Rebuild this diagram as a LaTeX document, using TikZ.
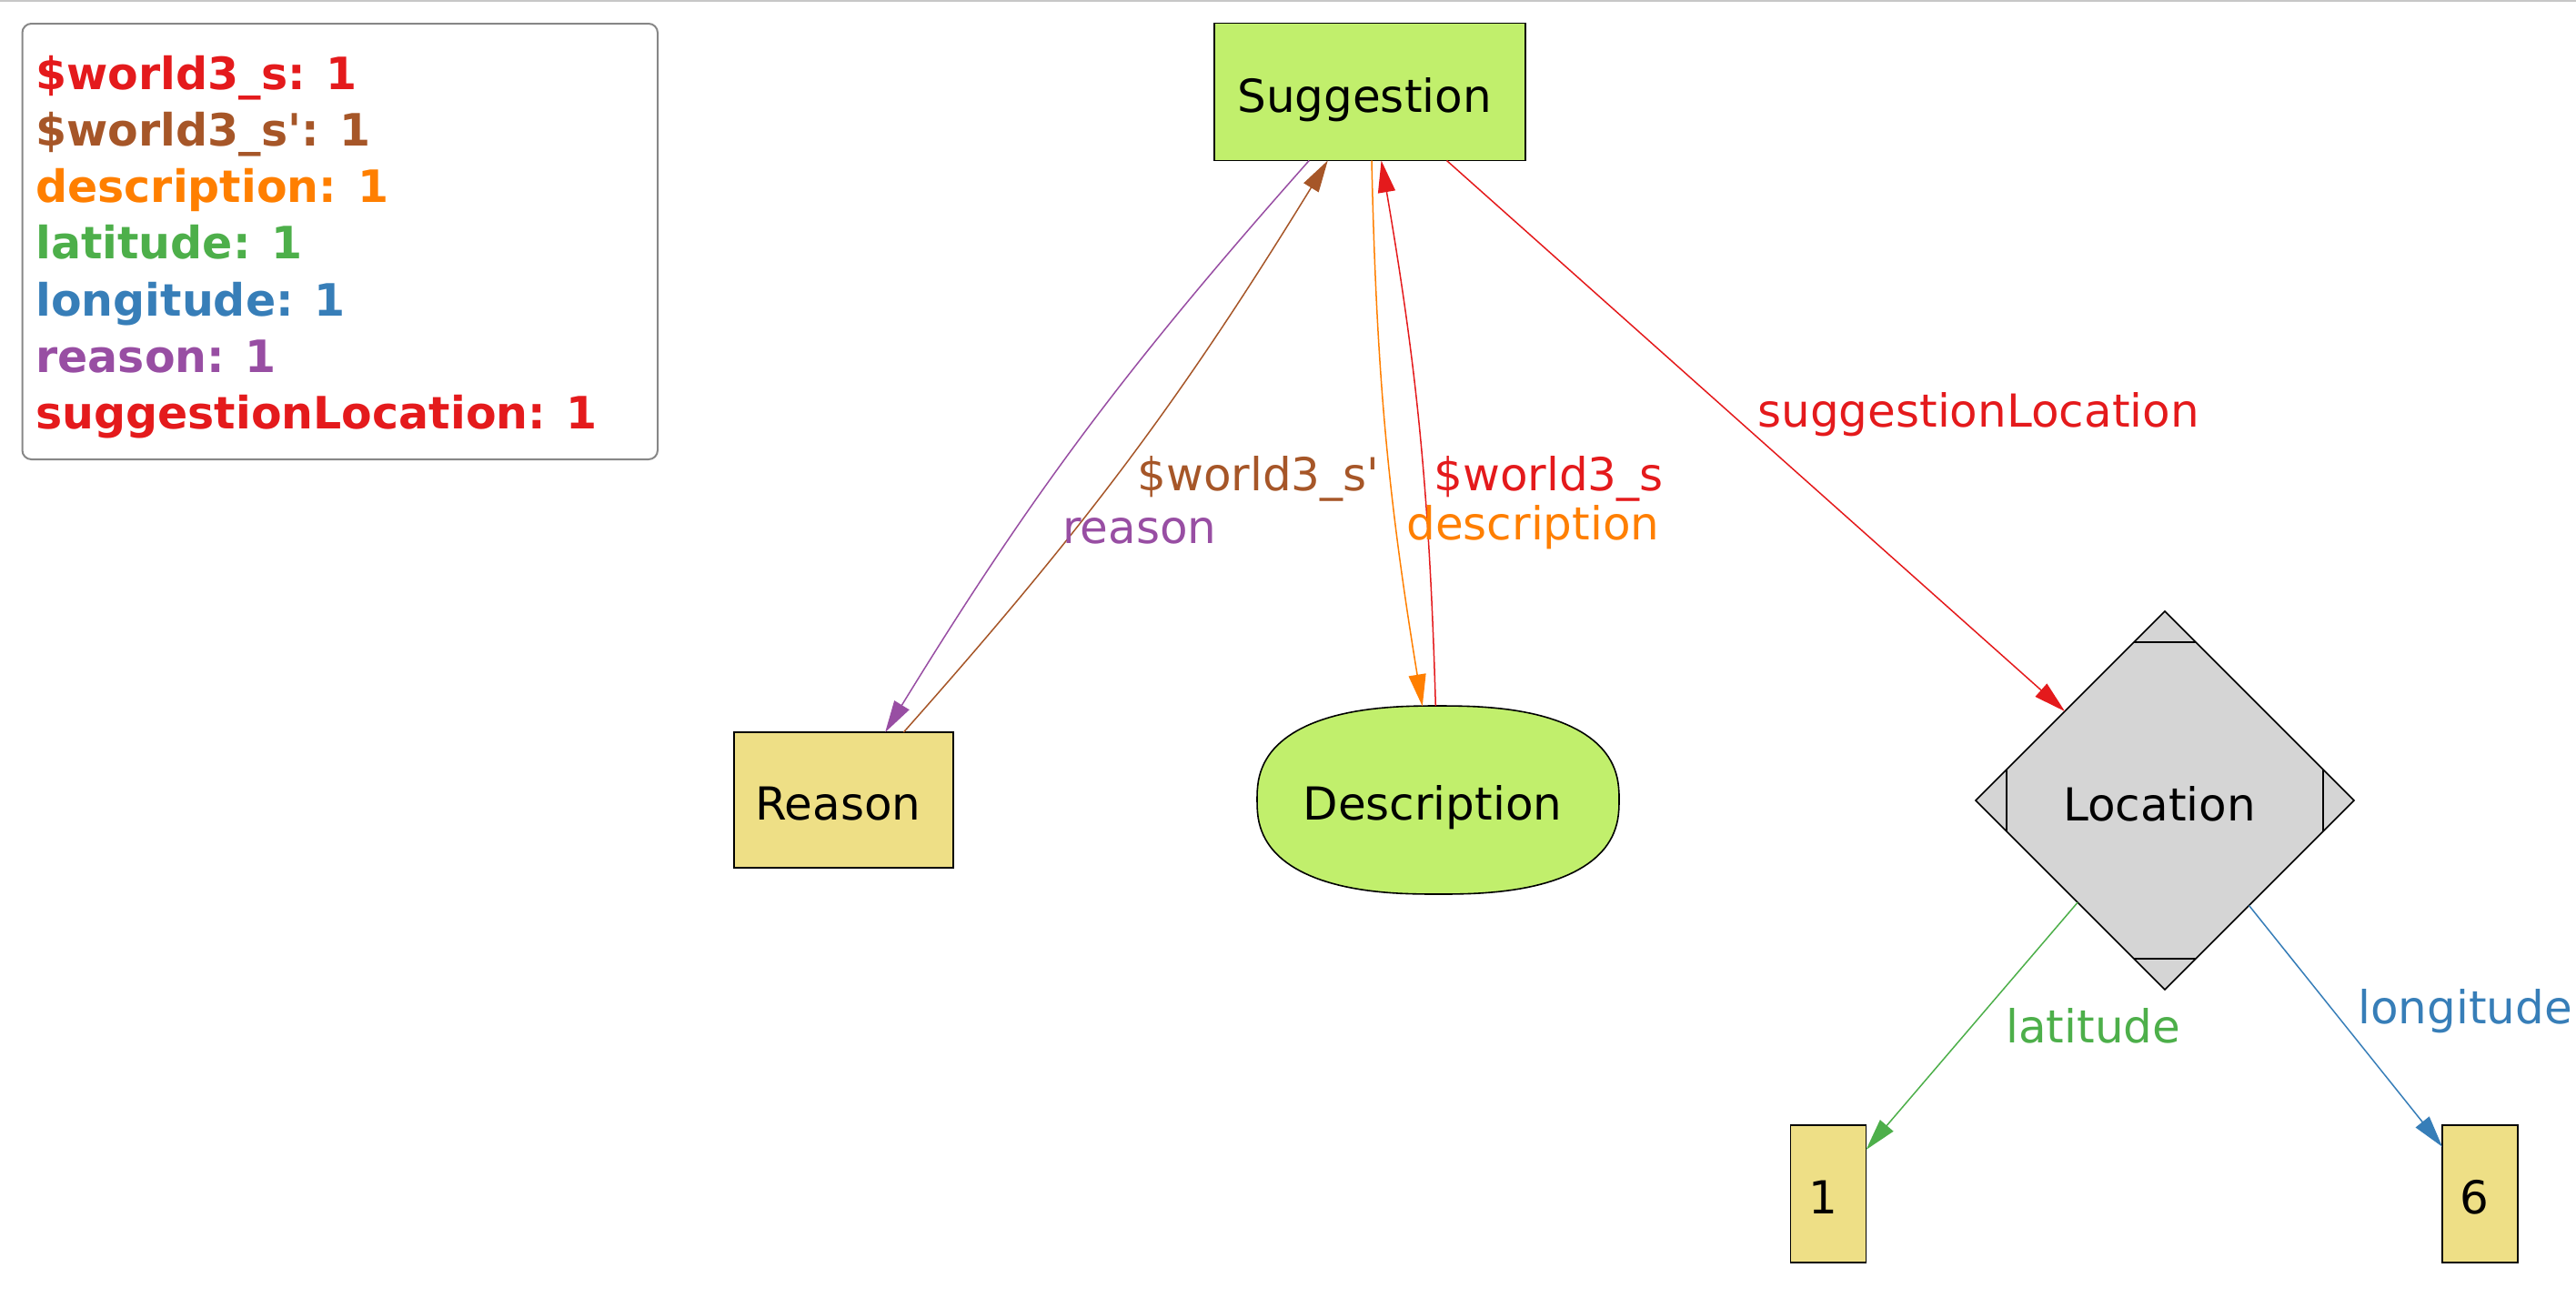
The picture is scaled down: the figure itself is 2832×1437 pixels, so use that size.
\documentclass[tikz,border=0pt]{standalone}
\usepackage{fontspec}
\setmainfont{DejaVu Sans}
\usetikzlibrary{shapes.geometric,arrows.meta,calc}
\definecolor{cred}{HTML}{E41A1C}
\definecolor{cbrown}{HTML}{A65628}
\definecolor{corange}{HTML}{FF7F00}
\definecolor{cgreen}{HTML}{4DAF4A}
\definecolor{cblue}{HTML}{377EB8}
\definecolor{cpurple}{HTML}{984EA3}
\definecolor{lime}{HTML}{C1EF6C}
\definecolor{khaki}{HTML}{EEDF86}
\definecolor{lgray}{HTML}{D5D5D5}
\tikzset{
  box/.style={rectangle,draw,line width=0.8pt,inner sep=0pt,outer sep=0pt,
    text height=22pt,text depth=0pt,
    execute at begin node=\kern-3pt,execute at end node=\kern3pt,
    font=\fontsize{25pt}{30pt}\selectfont},
  edge/.style={line width=0.75pt,-{Triangle[length=17.5pt,width=9.5pt]}},
  lbl/.style={anchor=base west,inner sep=0pt,font=\fontsize{25pt}{30pt}\selectfont},
  leg/.style={anchor=base west,inner sep=0pt,font=\fontsize{24.5pt}{30pt}\selectfont\bfseries}
}
\begin{document}
\begin{tikzpicture}[x=0.5pt,y=-0.5pt]
\useasboundingbox (0,0) rectangle (2832,1437);
\draw[black!22,line width=1pt] (0,1) -- (2832,1);
% legend
\draw[black!47,line width=1pt,rounded corners=5pt] (24.5,26) rectangle (723,505);
\node[leg,cred] (leg1) at (39,98) {\$world3\_s: 1};
\node[leg,cbrown] (leg2) at (39,160.3) {\$world3\_s\textquotesingle: 1};
\node[leg,corange] (leg3) at (39,222.6) {description: 1};
\node[leg,cgreen] (leg4) at (39,284.9) {latitude: 1};
\node[leg,cblue] (leg5) at (39,347.2) {longitude: 1};
\node[leg,cpurple] (leg6) at (39,409.5) {reason: 1};
\node[leg,cred] (leg7) at (39,471.8) {suggestionLocation: 1};
% nodes
\node[box,fill=lime,minimum width=171pt,minimum height=75.5pt] (sugg) at (1506,101) {Suggestion};
\node[box,fill=khaki,minimum width=120.5pt,minimum height=74.5pt] (reason) at (927.5,879.5) {Reason};
% rounded outline of Description
\filldraw[fill=lime,draw=black,line width=0.8pt]
  plot[domain=0.5:360.5,samples=145]
  ({1581+199*sign(cos(\x))*abs(cos(\x))^0.8},{879.5+103.5*sign(sin(\x))*abs(sin(\x))^0.8}) -- cycle;
\node[box,ellipse,draw=none,minimum width=199pt,minimum height=103.5pt] (desc) at (1581,879.5) {Description};
\node[box,diamond,fill=lgray,minimum width=208pt,minimum height=208pt] (loc) at (2380,880) {Location};
\draw[line width=0.8pt] ($(loc.north)+(-34,34)$) -- +(68,0);
\draw[line width=0.8pt] ($(loc.south)+(-34,-34)$) -- +(68,0);
\draw[line width=0.8pt] ($(loc.west)+(34,-34)$) -- +(0,68);
\draw[line width=0.8pt] ($(loc.east)+(-34,-34)$) -- +(0,68);
\node[box,fill=khaki,minimum width=41.5pt,minimum height=75.5pt] (one) at (2010,1312.5) {1};
\node[box,fill=khaki,minimum width=41.5pt,minimum height=75.5pt] (six) at (2726.5,1312.5) {6};
% edges
\draw[edge,cpurple] (sugg) to[bend right=5] (reason);
\draw[edge,cbrown] (reason) to[bend right=5] (sugg);
\draw[edge,corange] (sugg) to[bend right=4] (desc);
\draw[edge,cred] (desc) to[bend right=4] (sugg);
\draw[edge,cred] (sugg) -- (loc);
\draw[edge,cgreen] (loc) -- (one);
\draw[edge,cblue] (loc) -- (six);
% edge labels
\node[lbl,cred] (lsugloc) at (1932,469) {suggestionLocation};
\node[lbl,cbrown] (lws2) at (1250,539) {\$world3\_s\textquotesingle};
\node[lbl,cpurple] (lreason) at (1168,597) {reason};
\node[lbl,cred] (lws) at (1576,539) {\$world3\_s};
\node[lbl,corange] (ldesc) at (1546,593) {description};
\node[lbl,cgreen] (llat) at (2205,1146) {latitude};
\node[lbl,cblue] (llon) at (2592,1125) {longitude};
\end{tikzpicture}
\end{document}
